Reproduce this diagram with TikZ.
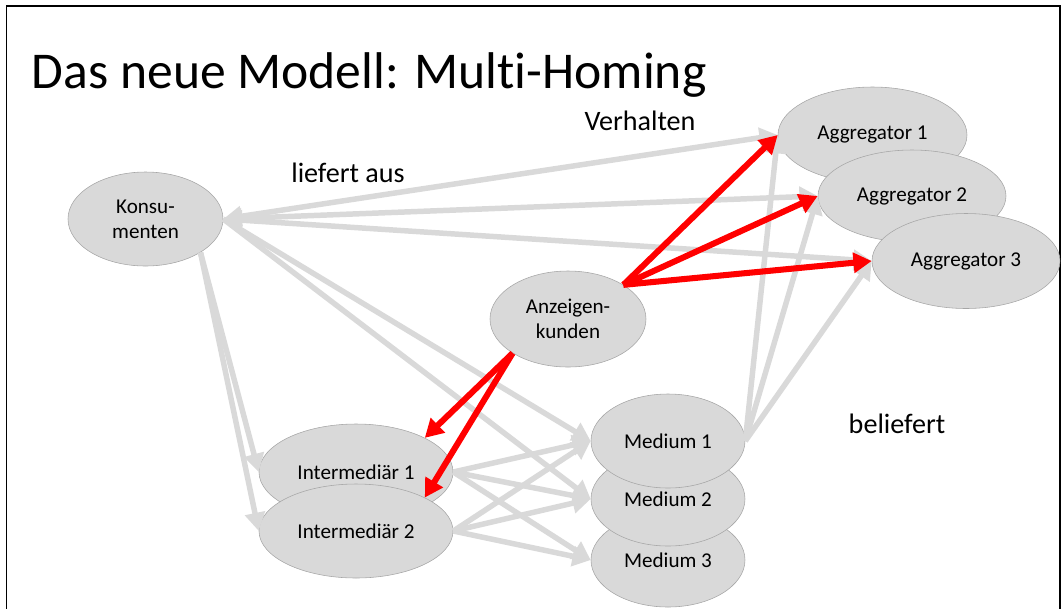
\documentclass[tikz,border=0pt]{standalone}
\usepackage{fontspec}
\setmainfont{Carlito}[Ligatures=NoCommon]
\usetikzlibrary{shapes.geometric,arrows.meta}
\definecolor{blobfill}{HTML}{D9D9D9}
\definecolor{blobline}{HTML}{A6A6A6}
\definecolor{linkgray}{HTML}{D9D9D9}

\begin{document}
\begin{tikzpicture}[x=0.025cm, y=-0.025cm, >={Triangle[length=13pt,width=14pt]},
    blob/.style 2 args={ellipse, draw=blobline, fill=blobfill, inner sep=0pt, align=center,
        minimum width=#1*0.025cm, minimum height=#2*0.025cm, font=\fontsize{15}{18}\selectfont},
    link/.style={draw=linkgray, line width=3.9pt, ->},
    hot/.style={draw=red, line width=4.3pt, ->},
    lbl/.style={font=\fontsize{20}{24}\selectfont}]
        \useasboundingbox (0, 0) rectangle (1061, 608);
        \draw[line width=1.4pt] (6.5, 610) -- (6.5, 6) -- (1060, 6) -- (1060, 610);

        \node[anchor=base west, font=\fontsize{36.7}{44}\selectfont] (title) at (27, 88) {Das neue Modell: Multi-Homing};
        \node[lbl] (ausl) at (348, 173) {liefert aus};
        \node[lbl] (verh) at (640, 121) {Verhalten};
        \node[lbl] (bel) at (897, 424) {beliefert};

        \node[blob={189}{96}] (a1) at (872.5, 135) {Aggregator 1};
        \node[blob={188}{92}] (a2) at (912, 196) {Aggregator 2};
        \node[blob={188}{95}] (a3) at (966, 261) {Aggregator 3};
        \node[blob={194}{96}] (i1) at (356, 472) {Intermediär 1};
        \node[blob={194}{94}] (i2) at (356, 531) {Intermediär 2};
        \node[blob={154}{94}] (m3) at (668, 560) {Medium 3};
        \node[blob={154}{94}] (m2) at (668, 499) {Medium 2};
        \node[blob={154}{94}] (m1) at (668, 441) {Medium 1};
        \node[blob={155}{94}] (k) at (145.5, 219) {Konsu-\\menten};
        \node[blob={156}{96}] (z) at (568, 319) {Anzeigen-\\kunden};

        \draw[link, <->] (k.east) -- (a1.west);
        \draw[link, <->] (k.east) -- (a2.west);
        \draw[link, <->] (k.east) -- (a3.west);
        \draw[link] (k.east) -- (m1.west);
        \draw[link] (k.east) -- (m2.west);
        \draw[link] (k.south east) -- (i1.west);
        \draw[link] (k.south east) -- (i2.west);

        \draw[link] (i1.east) -- (m1.west);
        \draw[link] (i1.east) -- (m2.west);
        \draw[link] (i1.east) -- (m3.west);
        \draw[link] (i2.east) -- (m1.west);
        \draw[link] (i2.east) -- (m2.west);
        \draw[link] (i2.east) -- (m3.west);

        \draw[link] (m1.east) -- (a1.west);
        \draw[link] (m1.east) -- (a2.west);
        \draw[link] (m1.east) -- (a3.west);

        \draw[hot] (z.north east) -- (a1.west);
        \draw[hot] (z.north east) -- (a2.west);
        \draw[hot] (z.north east) -- (a3.west);
        \draw[hot] (z.south west) -- (i1.north east);
        \draw[hot] (z.south west) -- (i2.north east);

    \end{tikzpicture}
\end{document}
